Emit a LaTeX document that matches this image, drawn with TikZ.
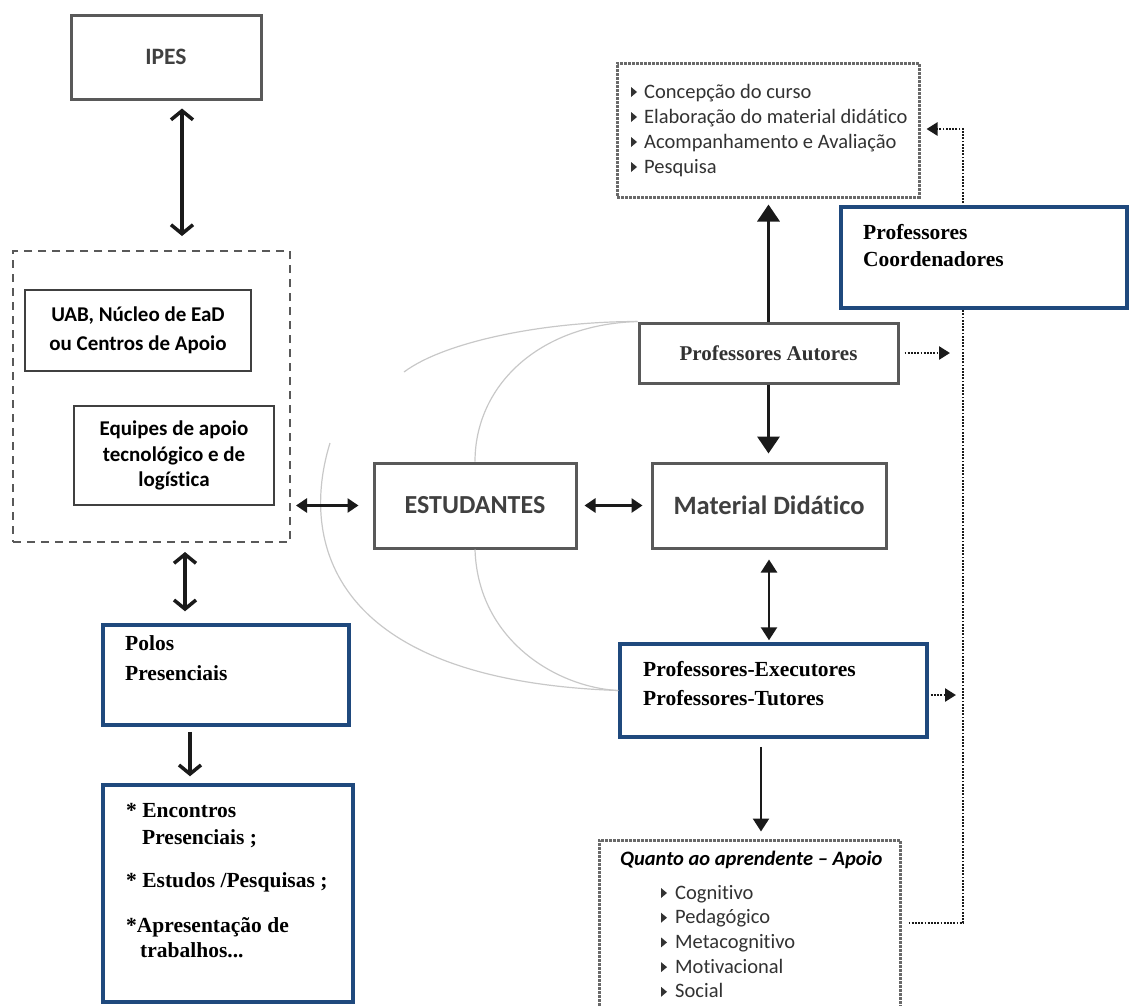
\documentclass[tikz,border=0pt]{standalone}
\usepackage{fontspec}
\setmainfont{Carlito}[Ligatures=NoCommon]
\newfontfamily\tms{Liberation Serif}
\usetikzlibrary{arrows.meta,calc}

\definecolor{boxgray}{RGB}{89,89,89}
\definecolor{linegray}{RGB}{64,64,64}
\definecolor{bluebd}{RGB}{31,73,125}
\definecolor{txtgray}{RGB}{50,50,50}
\definecolor{curvegray}{RGB}{200,200,200}
\definecolor{tipblack}{RGB}{26,26,26}
\definecolor{dotgray}{RGB}{105,105,105}

\tikzset{
  graybox/.style={draw=boxgray,line width=3pt,fill=white},
  thinbox/.style={draw=linegray,line width=2.2pt,fill=white},
  bluebox/.style={draw=bluebd,line width=3.5pt,fill=white},
  dashbox/.style={draw=boxgray,line width=2pt,dash pattern=on 8pt off 6pt},
  dotbox/.style={draw=dotgray,line width=3pt,dash pattern=on 3pt off 1pt,fill=white},
  bluetxt/.style={anchor=base west,inner sep=0pt,font=\tms\bfseries\fontsize{21.5}{27}\selectfont},
  listtxt/.style={anchor=base west,inner sep=0pt,text=txtgray,font=\fontsize{20.5}{25}\selectfont},
  barbs/.style={draw=tipblack,line width=3.5pt,{Straight Barb[length=9pt,width=22pt]}-{Straight Barb[length=9pt,width=22pt]}},
  barbend/.style={draw=tipblack,line width=3.5pt,-{Straight Barb[length=9pt,width=22pt]}},
  dblsmall/.style={draw=tipblack,line width=2.8pt,{Triangle[length=11pt,width=14pt]}-{Triangle[length=11pt,width=14pt]}},
  dblmid/.style={draw=tipblack,line width=2.5pt,{Triangle[length=13pt,width=16pt]}-{Triangle[length=13pt,width=16pt]}},
  onebig/.style={draw=tipblack,line width=3.5pt,-{Triangle[length=17pt,width=22pt]}},
  onemid/.style={draw=tipblack,line width=2.5pt,-{Triangle[length=13pt,width=16pt]}},
  dotline/.style={draw=tipblack,line width=2.5pt,dash pattern=on 1.8pt off 1.4pt,-{Triangle[length=11pt,width=13pt]}},
  swoosh/.style={draw=curvegray,line width=1.2pt}
}

\begin{document}
\begin{tikzpicture}[x=1pt,y=-1pt]
    \clip (0,0) rectangle (1129,1005);

    % left column
    \node[graybox,minimum width=190pt,minimum height=84pt,text=linegray,font=\fontsize{23.5}{28}\selectfont\bfseries] (ipes) at (166,57) {IPES};
    \node[dashbox,minimum width=277pt,minimum height=291pt] (grp) at (151.5,396.5) {};
    \node[thinbox,minimum width=226pt,minimum height=81pt,align=center,font=\fontsize{21}{29}\selectfont\bfseries] (uab) at (138,330.5) {UAB, Núcleo de EaD\\ou Centros de Apoio};
    \node[thinbox,minimum width=200pt,minimum height=99pt,align=center,font=\fontsize{21}{25.5}\selectfont\bfseries] (equip) at (174,455.5) {Equipes de apoio\\tecnológico e de\\logística};
    \node[bluebox,minimum width=246pt,minimum height=100pt] (pol) at (226,675) {};
    \node[bluetxt] (pol1) at (125,650) {Polos};
    \node[bluetxt] (pol2) at (125,680) {Presenciais};
    \node[bluebox,minimum width=250pt,minimum height=217pt] (enc) at (228,893.5) {};
    \foreach \x/\y/\t [count=\i] in {126/817/{* Encontros}, 142/844/{Presenciais ;}, 126/887/{* Estudos /Pesquisas ;}, 126/932/{*Apresentação de}, 140/957/{trabalhos...}}
        \node[bluetxt] (enc\i) at (\x,\y) {\t};

    % centre
    \node[graybox,minimum width=202pt,minimum height=85pt,text=linegray,font=\fontsize{26}{30}\selectfont\bfseries] (estud) at (475,505.5) {ESTUDANTES};
    \node[graybox,minimum width=234pt,minimum height=85pt,text=linegray,font=\fontsize{26.5}{30}\selectfont\bfseries] (mat) at (769,505.5) {Material Didático};
    \node[graybox,minimum width=259pt,minimum height=60pt,text=txtgray,font=\tms\bfseries\fontsize{21}{26}\selectfont] (autor) at (768.5,353) {Professores Autores};

    % tasks of the authors
    \node[dotbox,minimum width=302pt,minimum height=134pt] (conc) at (768,130) {};
    \foreach \t [count=\i from 0] in {Concepção do curso, Elaboração do material didático, Acompanhamento e Avaliação, Pesquisa}{
        \fill[txtgray,shift={(631,92+25*\i)}] (0,-5) -- (6,0) -- (0,5) -- cycle;
        \node[listtxt] (conc\i) at (644,98+25*\i) {\t};
    }

    % tutors and support
    \node[bluebox,minimum width=307pt,minimum height=93pt] (exec) at (773.5,690.5) {};
    \node[bluetxt] (exec1) at (643,676) {Professores-Executores};
    \node[bluetxt] (exec2) at (643,705) {Professores-Tutores};
    \node[dotbox,minimum width=301pt,minimum height=175pt] (quan) at (749.5,927.5) {};
    \node[listtxt,text=black,font=\fontsize{20.5}{25}\selectfont\bfseries\itshape] (quant) at (620,865) {Quanto ao aprendente -- Apoio};
    \foreach \t [count=\i from 0] in {Cognitivo, Pedagógico, Metacognitivo, Motivacional, Social}{
        \fill[txtgray,shift={(661,893+24.7*\i)}] (0,-5) -- (6,0) -- (0,5) -- cycle;
        \node[listtxt] (quan\i) at (675,899+24.7*\i) {\t};
    }

    % grey swooshes
    \coordinate (cA) at (404,372);
    \coordinate (cB) at (330,443);
    \draw[swoosh] (autor.north west) .. controls +(-95,0) and +(40,-30) .. (cA);
    \draw[swoosh] (autor.north west) .. controls +(-100,3) and +(0,-75) .. (estud.north);
    \draw[swoosh] (cB) .. controls +(-30,97) and +(-290,-10) .. (exec.west);
    \draw[swoosh] (estud.south) .. controls +(3,92) and +(-60,-3) .. (exec.west);

    % solid arrows
    \draw[barbs] ($(ipes.south)+(16,8)$) -- ($(grp.north)+(30.5,-14)$);
    \draw[barbs] ($(grp.south)+(33.5,9)$) -- ($(pol.north)+(-41,-12)$);
    \draw[barbend] ($(pol.south)+(-36,5)$) -- ($(enc.north)+(-38,-7)$);
    \draw[dblsmall] ($(grp.east |- estud.west)+(5,0)$) -- ($(estud.west)+(-14,0)$);
    \draw[dblsmall] ($(estud.east)+(7,0)$) -- ($(mat.west)+(-8,0)$);
    \draw[onebig] (autor.north) -- ($(conc.south)+(0.5,6)$);
    \draw[onebig] (autor.south) -- ($(mat.north)+(-0.5,-8)$);
    \draw[dblmid] ($(mat.south)+(0,10)$) -- ($(exec.north)+(-4.5,-2)$);
    \draw[onemid] ($(exec.south)+(-12.5,8)$) -- ($(quan.north)+(11.5,-7)$);

    % dotted feedback
    \coordinate (railB) at (963,923);
    \coordinate (railT) at (963,129);
    \coordinate (tipA) at (950,353);
    \coordinate (tipE) at (956,695);
    \draw[dotline] ($(quan.east)+(7,-4.5)$) -- (railB) -- (railT) -- ($(conc.east)+(6,-1)$);
    \draw[dotline] ($(autor.east)+(5,0)$) -- (tipA);
    \draw[dotline] ($(exec.east)+(2,4.5)$) -- (tipE);

    \node[bluebox,minimum width=286pt,minimum height=101pt] (coord) at (984,257.5) {};
    \node[bluetxt] (coord1) at (863,239) {Professores};
    \node[bluetxt] (coord2) at (863,266) {Coordenadores};
\end{tikzpicture}
\end{document}
